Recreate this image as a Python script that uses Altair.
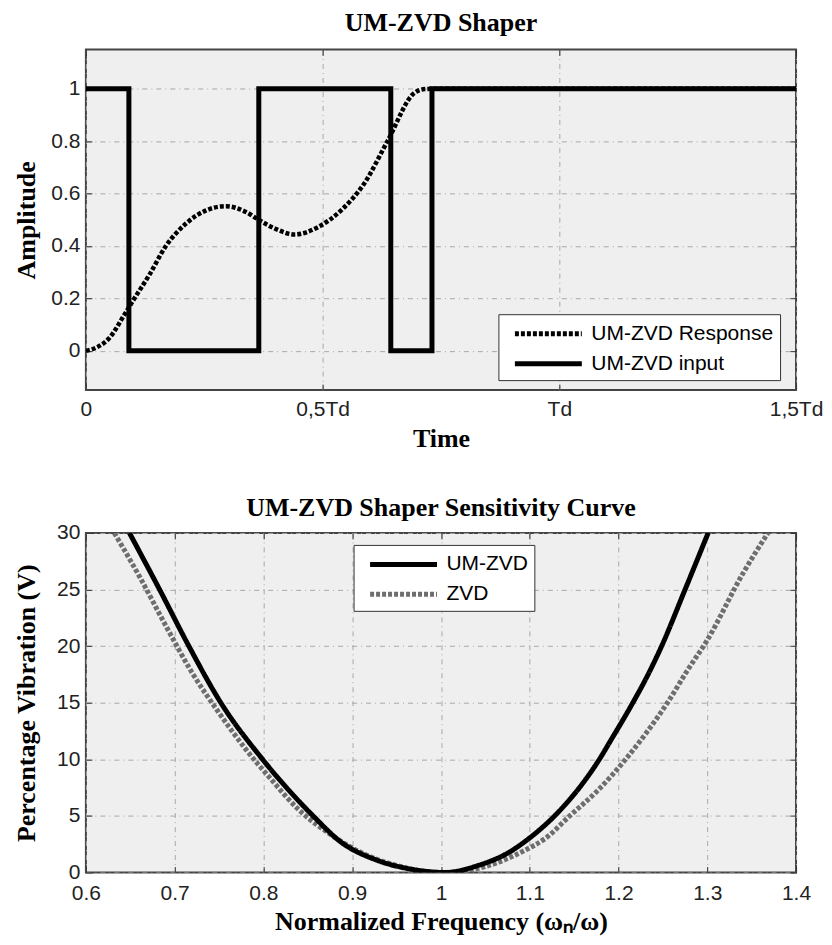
import altair as alt
import pandas as pd

# ---------------- data: top panel (UM-ZVD Shaper) ----------------
top_series = ["UM-ZVD Response", "UM-ZVD input"]
input_t = [0.0, 0.0908, 0.0908, 0.3652, 0.3652, 0.644, 0.644, 0.731, 0.731, 1.5]
input_v = [1, 1, 0, 0, 1, 1, 0, 0, 1, 1]
resp_t = [0.0, 0.025, 0.05, 0.082, 0.099, 0.134, 0.169, 0.211, 0.254, 0.296,
          0.338, 0.365, 0.40, 0.441, 0.49, 0.539, 0.588, 0.637, 0.693, 0.712,
          0.73, 1.5]
resp_v = [0.0, 0.015, 0.05, 0.14, 0.19, 0.29, 0.40, 0.485, 0.536, 0.552,
          0.53, 0.50, 0.466, 0.444, 0.472, 0.536, 0.639, 0.80, 0.983, 0.998,
          1.0, 1.0]
top_x_ticks = [0, 0.5, 1, 1.5]
top_x_labels = ["0", "0,5Td", "Td", "1,5Td"]
top_y_ticks = [0, 0.2, 0.4, 0.6, 0.8, 1]
top_y_labels = ["0", "0.2", "0.4", "0.6", "0.8", "1"]

# ---------------- data: bottom panel (sensitivity curve) ----------------
bot_series = ["UM-ZVD", "ZVD"]
um_f = [0.649, 0.683, 0.716, 0.752, 0.799, 0.856, 0.888, 0.925, 0.966, 1.005,
        1.041, 1.077, 1.099, 1.128, 1.157, 1.176, 1.193, 1.214, 1.234, 1.248,
        1.275, 1.301]
um_v = [30, 25, 20, 15, 10, 5, 2.65, 1.17, 0.3, 0.0,
        0.6, 1.8, 3.0, 5.0, 7.6, 9.7, 11.9, 14.7, 17.6, 19.9,
        25, 30]
zvd_f = [0.632, 0.660, 0.690, 0.720, 0.750, 0.780, 0.809, 0.839, 0.873, 0.910,
         0.951, 1.0, 1.038, 1.093, 1.119, 1.145, 1.176, 1.208, 1.231, 1.256,
         1.278, 1.299, 1.340, 1.370]
zvd_v = [30, 26.2, 21.8, 17.6, 14.1, 10.9, 8.2, 5.6, 3.5, 1.76,
         0.6, 0.0, 0.3, 1.9, 3.1, 5.0, 7.2, 10.0, 12.3, 15.1,
         17.9, 20.4, 26.4, 30.2]
bot_x_ticks = [0.6, 0.7, 0.8, 0.9, 1.0, 1.1, 1.2, 1.3, 1.4]
bot_x_labels = ["0.6", "0.7", "0.8", "0.9", "1", "1.1", "1.2", "1.3", "1.4"]
bot_y_ticks = [0, 5, 10, 15, 20, 25, 30]
bot_y_labels = ["0", "5", "10", "15", "20", "25", "30"]

SERIF = "Liberation Serif"
SANS = "Liberation Sans"
W = 711


def label_expr(vals, labels):
    v = ",".join(repr(float(x)) for x in vals)
    l = ",".join("'" + s + "'" for s in labels)
    return f"[{l}][indexof([{v}], datum.value)]"


def main_x(vals, labels, title, pad, tpad):
    return alt.Axis(orient="bottom", values=vals, labelExpr=label_expr(vals, labels),
                    title=title, grid=True, ticks=False, domain=False,
                    labelPadding=pad, titlePadding=tpad, labelFlush=False,
                    minExtent=0)


def main_y(vals, labels, title):
    return alt.Axis(orient="left", values=vals, labelExpr=label_expr(vals, labels),
                    title=title, grid=True, ticks=False, domain=False,
                    labelPadding=6, titlePadding=10, minExtent=36, maxExtent=36)


def tick_axis(orient, vals):
    return alt.Axis(orient=orient, values=vals, offset=-6, tickSize=6, ticks=True,
                    labels=False, grid=False, domain=False, title=None,
                    minExtent=0, maxExtent=0)


def legend(x, y):
    return alt.Legend(title=None, orient="none", legendX=x, legendY=y,
                      fillColor="white", strokeColor="#333", padding=6,
                      symbolType="M-0.27,0H5.82", symbolSize=484, symbolStrokeWidth=5,
                      labelFont=SANS, labelFontSize=21, labelColor="black",
                      labelOffset=60, rowPadding=6, labelLimit=400)


def title(text, off):
    return alt.TitleParams(text=text, font=SERIF, fontSize=26, fontWeight="bold",
                           color="black", anchor="middle", offset=off)


# ---------------- top panel ----------------
df_in = pd.DataFrame({"t": input_t, "v": input_v, "i": list(range(len(input_t))),
                      "s": top_series[1]})
df_resp = pd.DataFrame({"t": resp_t, "v": resp_v, "i": list(range(len(resp_t))),
                        "s": top_series[0]})
xs_top = alt.Scale(domain=[0, 1.5], nice=False, zero=False)
ys_top = alt.Scale(domain=[-0.15, 1.15], nice=False, zero=False)
lg_top = legend(413, 265)
col_top = alt.Color("s:N", scale=alt.Scale(domain=top_series, range=["black", "black"]),
                    legend=lg_top)
dash_top = alt.StrokeDash("s:N", scale=alt.Scale(domain=top_series, range=[[4, 2], [1, 0]]),
                          legend=lg_top)

top_a = alt.Chart(df_in).mark_line(strokeWidth=5, clip=True).encode(
    x=alt.X("t:Q", scale=xs_top, axis=main_x(top_x_ticks, top_x_labels, "Time", 8, 6)),
    y=alt.Y("v:Q", scale=ys_top, axis=main_y(top_y_ticks, top_y_labels, "Amplitude")),
    color=col_top, strokeDash=dash_top, order="i:Q")
top_b = alt.Chart(df_resp).mark_line(strokeWidth=4.5, interpolate="monotone", clip=True).encode(
    x=alt.X("t:Q", scale=xs_top, axis=None),
    y=alt.Y("v:Q", scale=ys_top, axis=None),
    color=col_top, strokeDash=dash_top, order="i:Q")
top_c = alt.Chart(df_in).mark_point(opacity=0).encode(
    x=alt.X("t:Q", scale=xs_top, axis=tick_axis("bottom", top_x_ticks)),
    y=alt.Y("v:Q", scale=ys_top, axis=tick_axis("right", top_y_ticks)))
top_d = alt.Chart(df_in).mark_point(opacity=0).encode(
    x=alt.X("t:Q", scale=xs_top, axis=tick_axis("top", top_x_ticks)),
    y=alt.Y("v:Q", scale=ys_top, axis=tick_axis("left", top_y_ticks)))
top = alt.layer(top_a, top_b, top_c, top_d).resolve_axis(
    x="independent", y="independent").properties(
    width=W, height=341, title=title("UM-ZVD Shaper", 13))

# ---------------- bottom panel ----------------
df_um = pd.DataFrame({"f": um_f, "v": um_v, "s": bot_series[0]})
df_zvd = pd.DataFrame({"f": zvd_f, "v": zvd_v, "s": bot_series[1]})
xs_bot = alt.Scale(domain=[0.6, 1.4], nice=False, zero=False)
ys_bot = alt.Scale(domain=[0, 30], nice=False, zero=False)
lg_bot = legend(268, 12)
col_bot = alt.Color("s:N", scale=alt.Scale(domain=bot_series, range=["black", "#6e6e6e"]),
                    legend=lg_bot)
dash_bot = alt.StrokeDash("s:N", scale=alt.Scale(domain=bot_series, range=[[1, 0], [4, 2]]),
                          legend=lg_bot)

bot_zvd = alt.Chart(df_zvd).mark_line(strokeWidth=5, interpolate="monotone", clip=True).encode(
    x=alt.X("f:Q", scale=xs_bot,
            axis=main_x(bot_x_ticks, bot_x_labels, "Normalized Frequency (ω\u2099/ω)", 10, 5)),
    y=alt.Y("v:Q", scale=ys_bot,
            axis=main_y(bot_y_ticks, bot_y_labels, "Percentage Vibration (V)")),
    color=col_bot, strokeDash=dash_bot)
bot_um = alt.Chart(df_um).mark_line(strokeWidth=5, interpolate="monotone", clip=True).encode(
    x=alt.X("f:Q", scale=xs_bot, axis=None),
    y=alt.Y("v:Q", scale=ys_bot, axis=None),
    color=col_bot, strokeDash=dash_bot)
bot_c = alt.Chart(df_um).mark_point(opacity=0).encode(
    x=alt.X("f:Q", scale=xs_bot, axis=tick_axis("bottom", bot_x_ticks)),
    y=alt.Y("v:Q", scale=ys_bot, axis=tick_axis("right", bot_y_ticks)))
bot_d = alt.Chart(df_um).mark_point(opacity=0).encode(
    x=alt.X("f:Q", scale=xs_bot, axis=tick_axis("top", bot_x_ticks)),
    y=alt.Y("v:Q", scale=ys_bot, axis=tick_axis("left", bot_y_ticks)))
bottom = alt.layer(bot_zvd, bot_um, bot_c, bot_d).resolve_axis(
    x="independent", y="independent").properties(
    width=W, height=340, title=title("UM-ZVD Shaper Sensitivity Curve", 1))

chart = alt.vconcat(top, bottom, spacing=42).resolve_scale(
    color="independent", strokeDash="independent"
).resolve_legend(
    color="independent", strokeDash="independent"
).properties(
    padding={"left": 5, "top": 0, "right": 0, "bottom": 0},
    background="white",
).configure_axis(
    labelFont=SANS, labelFontSize=21, labelColor="#222",
    titleFont=SERIF, titleFontSize=26, titleFontWeight="bold", titleColor="black",
    gridColor="#a8a8a8", gridDash=[5, 4, 1, 4], gridWidth=1,
    tickColor="#333", tickWidth=1,
).configure_view(fill="#efefef", stroke="#444", strokeWidth=2)

chart.save("out.html", embed_options={"renderer": "svg", "actions": False})
